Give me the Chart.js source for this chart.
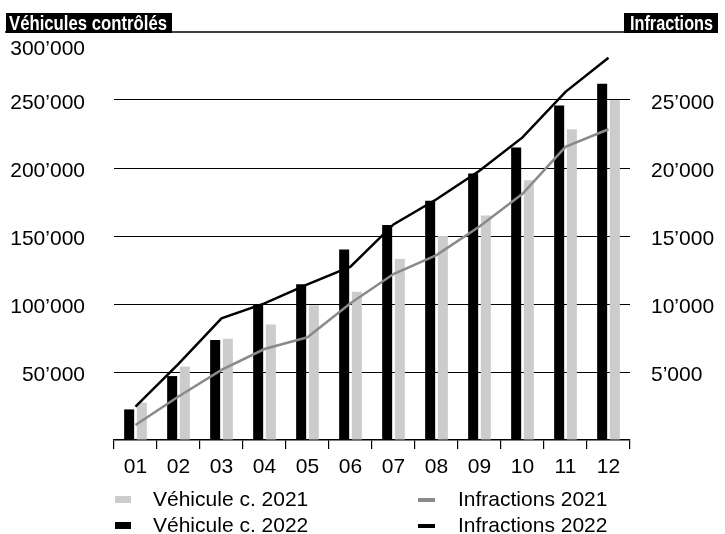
<!DOCTYPE html>
<html lang="fr">
<head>
<meta charset="utf-8">
<title>Véhicules contrôlés et infractions</title>
<script src="https://cdn.jsdelivr.net/npm/chart.js@4.4.1/dist/chart.umd.min.js"></script>
<style>
  html, body { margin: 0; padding: 0; background: #fff; }
  #wrap { width: 725px; height: 534px; }
</style>
</head>
<body>
<div id="wrap"><canvas id="chart" width="725" height="534"></canvas></div>
<script>
/* --- Data --- */
const months = ['01', '02', '03', '04', '05', '06', '07', '08', '09', '10', '11', '12'];
const vehicles2022 = [22500, 47000, 73500, 100000, 114500, 140000, 158000, 176000, 196000, 215000, 246000, 262000];
const vehicles2021 = [27500, 54000, 74500, 85000, 99000, 109000, 133000, 150000, 165000, 191000, 228500, 250000];
const infractions2022 = [2450, 5600, 8950, 10050, 11450, 12750, 15850, 17700, 19800, 22250, 25600, 28100];
const infractions2021 = [1100, 3200, 5150, 6690, 7550, 10050, 12200, 13600, 15700, 18100, 21550, 22850];

const leftTicks = [50000, 100000, 150000, 200000, 250000, 300000];
const rightTicks = [5000, 10000, 15000, 20000, 25000];

const legendItems = [
    { label: 'Véhicule c. 2021', color: '#cccccc', kind: 'bar' },
    { label: 'Véhicule c. 2022', color: '#000000', kind: 'bar' },
    { label: 'Infractions 2021', color: '#8a8a8a', kind: 'line' },
    { label: 'Infractions 2022', color: '#000000', kind: 'line' }
];

const FONT = '"Liberation Sans", Arial, Helvetica, sans-serif';
const HEAD_FONT = 'bold 20px "Liberation Sans", Arial, sans-serif';

// swiss thousands separator
function fmt(v) {
    return String(v).replace(/\B(?=(\d{3})+(?!\d))/g, '\u2019');
}

// condensed header text: squeeze a bold face into the box width
function squeezedText(ctx, text, x, y, width) {
    const w = ctx.measureText(text).width;
    ctx.save();
    ctx.translate(x, y);
    ctx.scale(Math.min(1, width / w), 1);
    ctx.fillText(text, 0, 0);
    ctx.restore();
}

/* --- Labels, headers and legend drawn over the chart --- */
const decorPlugin = {
    id: 'decor',
    afterDraw(chart) {
        const { ctx, scales } = chart;
        ctx.save();

        // header rule + boxes
        ctx.strokeStyle = '#000';
        ctx.lineWidth = 1.5;
        ctx.beginPath();
        ctx.moveTo(5, 32);
        ctx.lineTo(718, 32);
        ctx.stroke();

        ctx.fillStyle = '#000';
        ctx.fillRect(6, 13, 166, 20);
        ctx.fillRect(624, 13, 94, 20);
        ctx.font = HEAD_FONT;
        ctx.textAlign = 'left';
        ctx.textBaseline = 'alphabetic';
        ctx.fillStyle = '#fff';
        squeezedText(ctx, 'Véhicules contrôlés', 9, 30, 158);
        squeezedText(ctx, 'Infractions', 630, 30, 83);

        // y tick labels
        ctx.fillStyle = '#000';
        ctx.font = '21px ' + FONT;
        ctx.textAlign = 'right';
        leftTicks.forEach(v => {
            const y = v === 300000 ? 55 : scales.y.getPixelForValue(v) + 9;
            ctx.fillText(fmt(v), 85, y);
        });
        ctx.textAlign = 'left';
        rightTicks.forEach(v => {
            ctx.fillText(fmt(v), 651, scales.y1.getPixelForValue(v) + 9);
        });

        // x tick labels
        ctx.textAlign = 'center';
        months.forEach((m, i) => {
            ctx.fillText(m, scales.x.getPixelForValue(i), 473);
        });

        // legend
        ctx.textAlign = 'left';
        legendItems.forEach((item, i) => {
            const col = i < 2 ? 0 : 1;
            const row = i % 2;
            const mx = col === 0 ? 115 : 418;
            const tx = col === 0 ? 153 : 458;
            const base = row === 0 ? 506 : 532;
            ctx.fillStyle = item.color;
            if (item.kind === 'bar') {
                ctx.fillRect(mx, base - 10, 16, 7);
            } else {
                ctx.fillRect(mx, base - 8, 17, 4);
            }
            ctx.fillStyle = '#000';
            ctx.fillText(item.label, tx, base);
        });

        ctx.restore();
    }
};

const ctx = document.getElementById('chart').getContext('2d');

new Chart(ctx, {
    type: 'bar',
    data: {
        labels: months,
        datasets: [
            {
                type: 'line',
                label: 'Infractions 2022',
                data: infractions2022,
                yAxisID: 'y1',
                borderColor: '#000000',
                borderWidth: 2.5,
                pointRadius: 0,
                tension: 0,
                order: 0
            },
            {
                type: 'line',
                label: 'Infractions 2021',
                data: infractions2021,
                yAxisID: 'y1',
                borderColor: '#8a8a8a',
                borderWidth: 2.5,
                pointRadius: 0,
                tension: 0,
                order: 1
            },
            {
                label: 'Véhicule c. 2022',
                data: vehicles2022,
                yAxisID: 'y',
                backgroundColor: '#000000',
                categoryPercentage: 0.59,
                barPercentage: 0.79,
                order: 2
            },
            {
                label: 'Véhicule c. 2021',
                data: vehicles2021,
                yAxisID: 'y',
                backgroundColor: '#cccccc',
                categoryPercentage: 0.59,
                barPercentage: 0.79,
                order: 2
            }
        ]
    },
    options: {
        responsive: false,
        animation: false,
        layout: {
            padding: { left: 114, right: 95, top: 32, bottom: 85 }
        },
        scales: {
            x: {
                offset: true,
                grid: {
                    display: true,
                    offset: true,
                    drawOnChartArea: false,
                    drawTicks: true,
                    tickLength: 9,
                    color: '#000',
                    lineWidth: 1.2
                },
                border: { display: true, color: '#000', width: 1.5 },
                ticks: { display: false }
            },
            y: {
                position: 'left',
                min: 0,
                max: 300000,
                ticks: { display: false, stepSize: 50000 },
                grid: {
                    drawTicks: false,
                    color: c => (c.tick.value === 0 || c.tick.value === 300000) ? 'rgba(0,0,0,0)' : '#000',
                    lineWidth: 1
                },
                border: { display: false }
            },
            y1: {
                display: false,
                position: 'right',
                min: 0,
                max: 30000
            }
        },
        plugins: {
            legend: { display: false },
            tooltip: { enabled: false }
        }
    },
    plugins: [decorPlugin]
});
</script>
</body>
</html>
